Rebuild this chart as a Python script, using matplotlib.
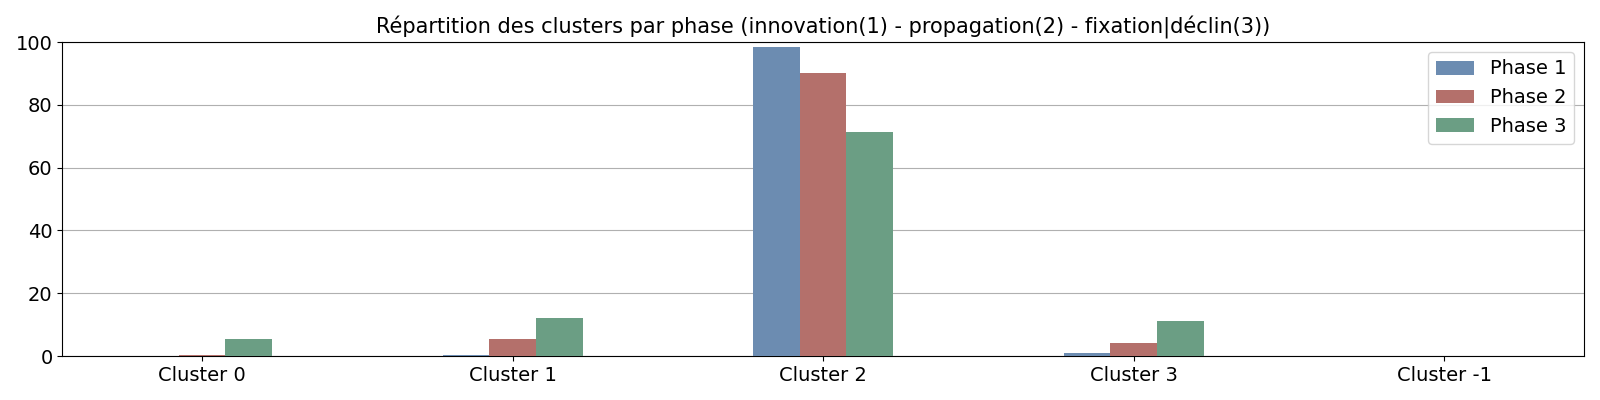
import matplotlib
matplotlib.use("Agg")
import matplotlib.pyplot as plt
import numpy as np

clusters = ["Cluster 0", "Cluster 1", "Cluster 2", "Cluster 3", "Cluster -1"]
phase1 = [0.0, 0.3, 98.5, 1.0, 0.0]
phase2 = [0.3, 5.5, 90.0, 4.0, 0.0]
phase3 = [5.5, 12.2, 71.2, 11.3, 0.0]
series = {"Phase 1": phase1, "Phase 2": phase2, "Phase 3": phase3}
colors = ["#6c8cb1", "#b4706b", "#6b9e84"]

fig, ax = plt.subplots(figsize=(16, 4), dpi=100)
x = np.arange(len(clusters))
w = 0.15
for i, (name, vals) in enumerate(series.items()):
    ax.bar(x + (i - 1) * w, vals, width=w, color=colors[i], label=name, zorder=3)

ax.set_xticks(x)
ax.set_xticklabels(clusters, fontsize=14)
ax.tick_params(axis="y", labelsize=14)
ax.set_ylim(0, 100)
ax.set_xlim(-0.45, 4.45)
ax.grid(axis="y", color="#b0b0b0", zorder=0)
ax.set_title("Répartition des clusters par phase (innovation(1) - propagation(2) - fixation|déclin(3))",
             fontsize=15)
ax.legend(loc="upper right", fontsize=14)
fig.subplots_adjust(left=0.039, right=0.99, top=0.895, bottom=0.11)
fig.savefig("out.png")
